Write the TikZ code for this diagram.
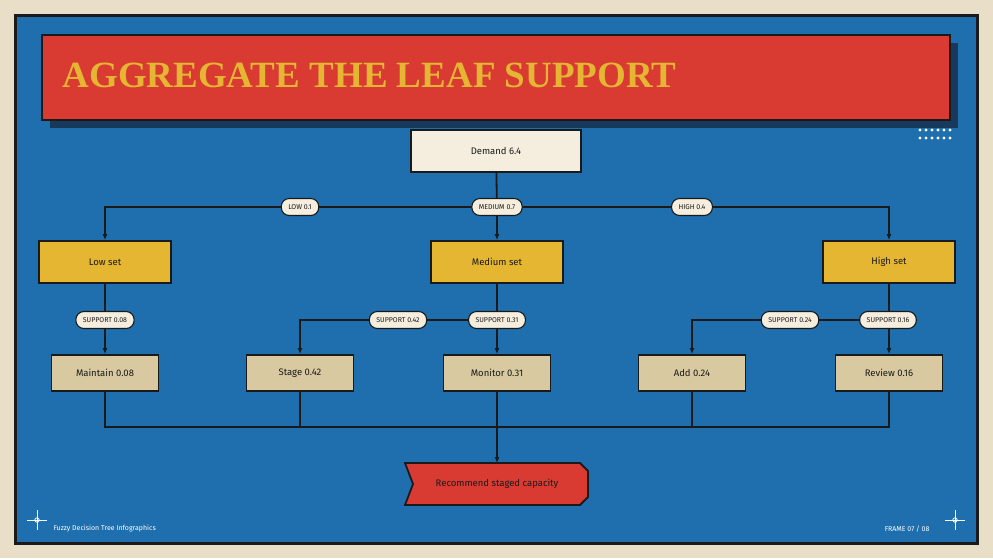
\documentclass[tikz,border=0pt]{standalone}
\usepackage{fontspec}
\setmainfont{Fira Sans}
\newfontfamily\titlefont{Liberation Serif}
\usetikzlibrary{positioning,arrows.meta}
\definecolor{bgpaper}{HTML}{E9DFC8}
\definecolor{slateblue}{HTML}{1F6FAE}
\definecolor{flagred}{HTML}{D93A32}
\definecolor{gold}{HTML}{E5B632}
\definecolor{cream}{HTML}{F5EEDF}
\definecolor{tan}{HTML}{D9C9A0}
\definecolor{ink}{HTML}{1A1A1A}
\definecolor{titleshadow}{HTML}{173A5C}
\tikzset{
    box/.style={draw=ink, line width=1.8pt, minimum height=42pt, font=\fontsize{9.5}{10}\selectfont, text=ink},
    root/.style={box, fill=cream, minimum width=170pt},
    set/.style={box, fill=gold, minimum width=132pt},
    leaf/.style={box, fill=tan, minimum width=107pt, minimum height=36pt},
    tag/.style={draw=ink, line width=1.1pt, fill=cream, rounded corners=8pt, font=\fontsize{7}{7}\selectfont, text=ink, inner xsep=7pt, minimum height=17pt},
    link/.style={draw=ink, line width=1.8pt},
    arr/.style={link, -{Latex[length=6pt,width=5pt]}},
}
\begin{document}
\begin{tikzpicture}[x=1pt, y=-1pt]
        \useasboundingbox (0,0) rectangle (993,558);
        \fill [bgpaper] (0,0) rectangle (993,558);
        \draw [fill=slateblue, draw=ink, line width=3pt] (15,15) rectangle (977,543);
        % title bar
        \fill [titleshadow] (50,43) rectangle (958,128);
        \draw [fill=flagred, draw=ink, line width=2pt] (42,35) rectangle (950,120);
        \node [anchor=west, text=gold, font=\titlefont\bfseries\fontsize{37}{37}\selectfont] (title) at (59,75) {AGGREGATE THE LEAF SUPPORT};
        \foreach \i in {0,...,5} {
            \fill [white] (920+\i*6,130) circle (1.6);
            \fill [white] (920+\i*6,138) circle (1.6);
        }
        % nodes
        \node [root] (demand) at (496,151) {Demand 6.4};
        \node [set] (low) at (105,262) {Low set};
        \node [set] (medium) at (497,262) {Medium set};
        \node [set] (high) at (889,262) {High set};
        \node [leaf] (maintain) at (105,373) {Maintain 0.08};
        \node [leaf] (stage) at (300,373) {Stage 0.42};
        \node [leaf] (monitor) at (497,373) {Monitor 0.31};
        \node [leaf] (add) at (692,373) {Add 0.24};
        \node [leaf] (review) at (889,373) {Review 0.16};
        \coordinate (split) at (497,207);
        \coordinate (join) at (497,427);
        % demand to sets
        \draw [link] (demand) -- (split);
        \draw [arr] (split) -| (low);
        \draw [arr] (split) -- (medium);
        \draw [arr] (split) -| (high);
        \node [tag] (tlow) at (300,207) {LOW 0.1};
        \node [tag] (tmed) at (497,207) {MEDIUM 0.7};
        \node [tag] (thigh) at (692,207) {HIGH 0.4};
        % sets to leaves
        \draw [arr] (low) -- (maintain);
        \draw [arr] (medium) -- (monitor);
        \draw [arr] (medium.south |- 0,320) -| (stage);
        \draw [arr] (high) -- (review);
        \draw [arr] (high.south |- 0,320) -| (add);
        \node [tag] (s1) at (105,320) {SUPPORT 0.08};
        \node [tag] (s2) at (398,320) {SUPPORT 0.42};
        \node [tag] (s3) at (497,320) {SUPPORT 0.31};
        \node [tag] (s4) at (790,320) {SUPPORT 0.24};
        \node [tag] (s5) at (888,320) {SUPPORT 0.16};
        % leaves to result
        \draw [link] (maintain) |- (join) -| (review);
        \foreach \n in {stage,monitor,add} \draw [link] (\n) -- (\n |- join);
        \draw [fill=flagred, draw=ink, line width=1.8pt] (405,463) -- (580,463) -- (588,471) -- (588,497) -- (580,505) -- (405,505) -- (413,484) -- cycle;
        \node [font=\fontsize{9.5}{10}\selectfont, text=ink] (result) at (497,484) {Recommend staged capacity};
        \draw [arr] (join) -- (497,463);
        % footer
        \node [anchor=west, text=white, font=\fontsize{7}{7}\selectfont] (foot) at (50,529) {Fuzzy Decision Tree Infographics};
        \node [anchor=east, text=white, font=\fontsize{7}{7}\selectfont] (frame) at (933,529) {FRAME 07 / 08};
        \foreach \cx in {37,955} {
            \draw [white, line width=1pt] (\cx-10,520) -- (\cx+10,520) (\cx,510) -- (\cx,530);
            \draw [white, line width=0.8pt] (\cx,520) circle (2.2);
        }
    \end{tikzpicture}
\end{document}
